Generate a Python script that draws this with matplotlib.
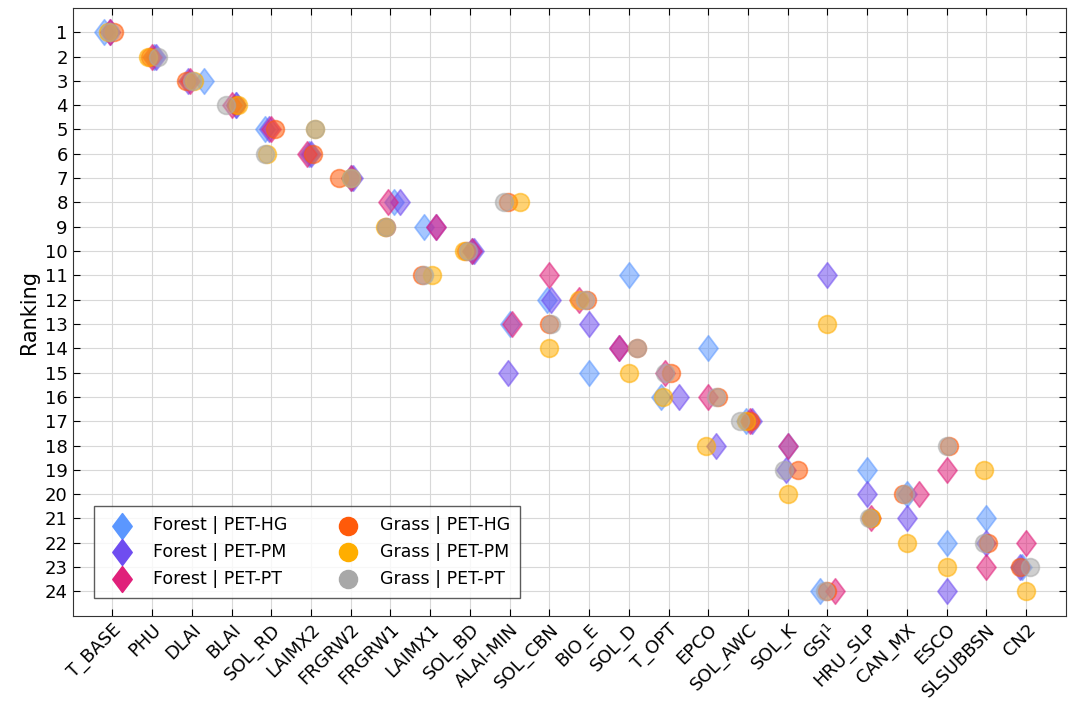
import numpy as np
import matplotlib.pyplot as plt
from matplotlib.path import Path

params = ['T_BASE', 'PHU', 'DLAI', 'BLAI', 'SOL_RD', 'LAIMX2', 'FRGRW2', 'FRGRW1',
          'LAIMX1', 'SOL_BD', 'ALAI-MIN', 'SOL_CBN', 'BIO_E', 'SOL_D', 'T_OPT', 'EPCO',
          'SOL_AWC', 'SOL_K', 'GSI$^1$', 'HRU_SLP', 'CAN_MX', 'ESCO', 'SLSUBBSN', 'CN2']

# rankings per series
forest_hg = [1, 2, 3, 4, 5, 6, 7, 8, 9, 10, 13, 12, 15, 11, 16, 14, 17, 18, 24, 19, 20, 22, 21, 23]
forest_pm = [1, 2, 3, 4, 5, 6, 7, 8, 9, 10, 15, 12, 13, 14, 16, 18, 17, 19, 11, 20, 21, 24, 22, 23]
forest_pt = [1, 2, 3, 4, 5, 6, 7, 8, 9, 10, 13, 11, 12, 14, 15, 16, 17, 18, 24, 21, 20, 19, 23, 22]
grass_hg = [1, 2, 3, 4, 5, 6, 7, 9, 11, 10, 8, 13, 12, 14, 15, 16, 17, 19, 24, 21, 20, 18, 22, 23]
grass_pm = [1, 2, 3, 4, 6, 5, 7, 9, 11, 10, 8, 14, 12, 15, 16, 18, 17, 20, 13, 21, 22, 23, 19, 24]
grass_pt = [1, 2, 3, 4, 6, 5, 7, 9, 11, 10, 8, 13, 12, 14, 15, 16, 17, 19, 24, 21, 20, 18, 22, 23]

# horizontal jitter (category units) so overlapping markers stay visible
jit_fhg = [-.2, .05, .3, .1, -.15, -.05, 0, .1, -.15, .05, 0, -.05, 0, 0, -.2, 0, -.05, 0, -.2, 0, 0, 0, 0, -.1]
jit_fpm = [-.05, .1, -.1, .1, -.05, 0, .05, .25, .15, .1, -.05, .05, 0, -.25, .25, .2, .1, -.05, 0, 0, 0, 0, 0, -.15]
jit_fpt = [-.05, .0, -.05, 0, 0, -.1, 0, -.05, .15, .05, .05, 0, -.25, -.25, -.1, 0, .05, 0, .2, .1, .3, 0, 0, 0]
grass_jit_hg = [.05, -.05, -.15, .1, .1, .05, -.3, -.1, -.2, -.1, -.05, 0, -.05, .2, .05, .25, .05, .25, 0, .1, -.1, .05, .05, -.15]
grass_jit_pm = [-.1, -.1, .05, .15, -.1, .1, 0, -.15, .05, -.15, .25, 0, -.25, 0, -.15, -.05, -.05, 0, 0, .1, 0, 0, -.05, 0]
grass_jit_pt = [-.05, .15, 0, -.15, -.15, .1, 0, -.1, -.15, -.05, -.15, .05, -.1, .2, -.1, .2, -.2, -.1, -.05, .05, -.05, 0, -.05, .1]

# MATLAB-style diamond, a bit taller than wide
diamond = Path([(0, 1), (0.75, 0), (0, -1), (-0.75, 0), (0, 1)],
               [Path.MOVETO, Path.LINETO, Path.LINETO, Path.LINETO, Path.CLOSEPOLY])

series = [
    ('Forest | PET-HG', forest_hg, jit_fhg, diamond, '#5b97ff'),
    ('Forest | PET-PM', forest_pm, jit_fpm, diamond, '#6f4df0'),
    ('Forest | PET-PT', forest_pt, jit_fpt, diamond, '#e0207a'),
    ('Grass | PET-HG', grass_hg, grass_jit_hg, 'o', '#ff5a0a'),
    ('Grass | PET-PM', grass_pm, grass_jit_pm, 'o', '#ffae00'),
    ('Grass | PET-PT', grass_pt, grass_jit_pt, 'o', '#a8a8a8'),
]

fig, ax = plt.subplots(figsize=(10.68, 7.16), dpi=100)
plt.subplots_adjust(left=0.068, right=0.998, top=0.989, bottom=0.14)

x = np.arange(1, len(params) + 1)
for label, vals, jit, mk, col in series:
    ax.scatter(x + np.array(jit), vals, marker=mk, s=165 if isinstance(mk, str) else 340,
               facecolor=col, edgecolor=col, alpha=0.55, linewidths=1.2,
               label=label, zorder=3)

ax.set_xlim(0, 25)
ax.set_ylim(25, 0)
ax.set_xticks(x)
ax.set_xticklabels(params, rotation=45, ha='right', rotation_mode='anchor', fontsize=13)
ax.set_yticks(np.arange(1, 25))
ax.tick_params(axis='y', labelsize=13)
ax.tick_params(direction='in', top=True, right=True, length=5)
ax.grid(True, color='#d8d8d8', linewidth=0.8)
ax.set_axisbelow(True)
ax.set_ylabel('Ranking', fontsize=15)
for s in ax.spines.values():
    s.set_color('#333333')

leg = ax.legend(loc='lower left', ncol=2, fontsize=12.5, frameon=True, fancybox=False,
                edgecolor='#333333', borderpad=0.6, columnspacing=2.5, handletextpad=0.8,
                bbox_to_anchor=(0.013, 0.015))
for h in leg.legend_handles:
    h.set_alpha(1)

fig.savefig('out.png', dpi=100)
